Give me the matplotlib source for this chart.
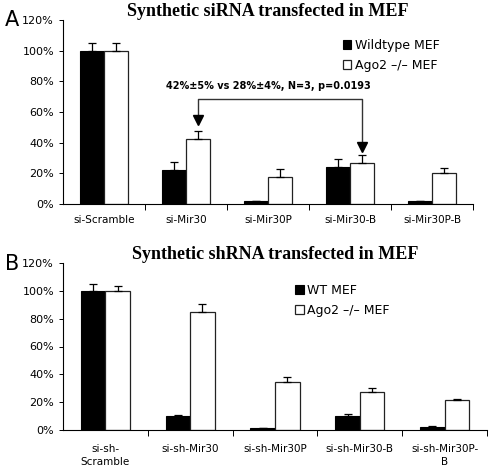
import numpy as np
import matplotlib.pyplot as plt
from matplotlib.ticker import FixedLocator, PercentFormatter

# --- panel A data ---
cats_a = ["si-Scramble", "si-Mir30", "si-Mir30P", "si-Mir30-B", "si-Mir30P-B"]
wt_a = [100, 22.3, 1.8, 24.2, 1.8]
wt_a_err = [4.8, 5.0, 0.4, 5.0, 0.4]
ko_a = [100, 42.3, 17.6, 26.7, 20.4]
ko_a_err = [5.3, 5.3, 5.2, 5.2, 3.1]

# --- panel B data ---
cats_b = ["si-sh-\nScramble", "si-sh-Mir30", "si-sh-Mir30P", "si-sh-Mir30-B", "si-sh-Mir30P-\nB"]
wt_b = [100, 10.0, 1.5, 10.0, 2.2]
wt_b_err = [5.0, 1.0, 0.2, 1.5, 0.5]
ko_b = [100, 85.0, 34.6, 27.2, 21.4]
ko_b_err = [3.2, 5.2, 3.8, 3.3, 0.6]

W = 0.29


def draw(ax, cats, wt, wt_err, ko, ko_err, title, labels, leg_xy, xpad):
    x = np.arange(len(cats))
    z = np.zeros(len(cats))
    ek = dict(ecolor="black", elinewidth=0.9, capsize=3, capthick=0.9)
    ax.bar(x - W / 2, wt, W, color="black", edgecolor="black", lw=0.8,
           yerr=[z, wt_err], error_kw=ek, label=labels[0])
    ax.bar(x + W / 2, ko, W, color="white", edgecolor="#222222", lw=0.9,
           yerr=[z, ko_err], error_kw=ek, label=labels[1])
    ax.set_xlim(-0.5, len(cats) - 0.5)
    ax.set_ylim(0, 120)
    ax.set_yticks(range(0, 121, 20))
    ax.yaxis.set_major_formatter(PercentFormatter(decimals=0))
    ax.set_xticks(x)
    ax.set_xticklabels(cats, fontsize=7.5, linespacing=1.35)
    ax.xaxis.set_minor_locator(FixedLocator(np.arange(0.5, len(cats), 1.0)))
    ax.tick_params(axis="x", which="major", length=0, pad=xpad)
    ax.tick_params(axis="x", which="minor", length=4, width=0.7, direction="out")
    ax.tick_params(axis="y", labelsize=8, length=3, width=0.7, direction="out")
    for s in ["top", "right"]:
        ax.spines[s].set_visible(False)
    for s in ["left", "bottom"]:
        ax.spines[s].set_linewidth(0.8)
    ax.set_title(title, fontsize=13, fontweight="bold", family="Liberation Serif", pad=3)
    ax.legend(loc="upper left", bbox_to_anchor=leg_xy, frameon=False, fontsize=9,
              handlelength=0.7, handleheight=0.7, handletextpad=0.3, labelspacing=0.55,
              borderaxespad=0)


fig = plt.figure(figsize=(4.9, 4.7), dpi=100)
ax_a = fig.add_axes([63 / 490, 1 - 204 / 470, 410 / 490, 184 / 470])
ax_b = fig.add_axes([63 / 490, 1 - 430 / 470, 424 / 490, 167 / 470])

draw(ax_a, cats_a, wt_a, wt_a_err, ko_a, ko_a_err,
     "Synthetic siRNA transfected in MEF", ["Wildtype MEF", "Ago2 \u2013/\u2013 MEF"],
     (0.67, 0.925), 8)
draw(ax_b, cats_b, wt_b, wt_b_err, ko_b, ko_b_err,
     "Synthetic shRNA transfected in MEF", ["WT MEF", "Ago2 \u2013/\u2013 MEF"],
     (0.535, 0.905), 10)

# comparison bracket in panel A
x1, x2 = 1 + W / 2, 3 + W / 2
ax_a.plot([x1, x1, x2, x2], [53, 68.6, 68.6, 36], color="#333333", lw=1.0)
ax_a.plot([x1], [54.5], marker="v", color="black", ms=7)
ax_a.plot([x2], [37.5], marker="v", color="black", ms=7)
ax_a.text(2.0, 77, "42%\u00b15% vs 28%\u00b14%, N=3, p=0.0193", ha="center", va="center",
          fontsize=7, fontweight="bold")

fig.text(5 / 490, 1 - 20 / 470, "A", fontsize=15, va="center", ha="left")
fig.text(5 / 490, 1 - 264 / 470, "B", fontsize=15, va="center", ha="left")

fig.savefig("out.png", dpi=100)
